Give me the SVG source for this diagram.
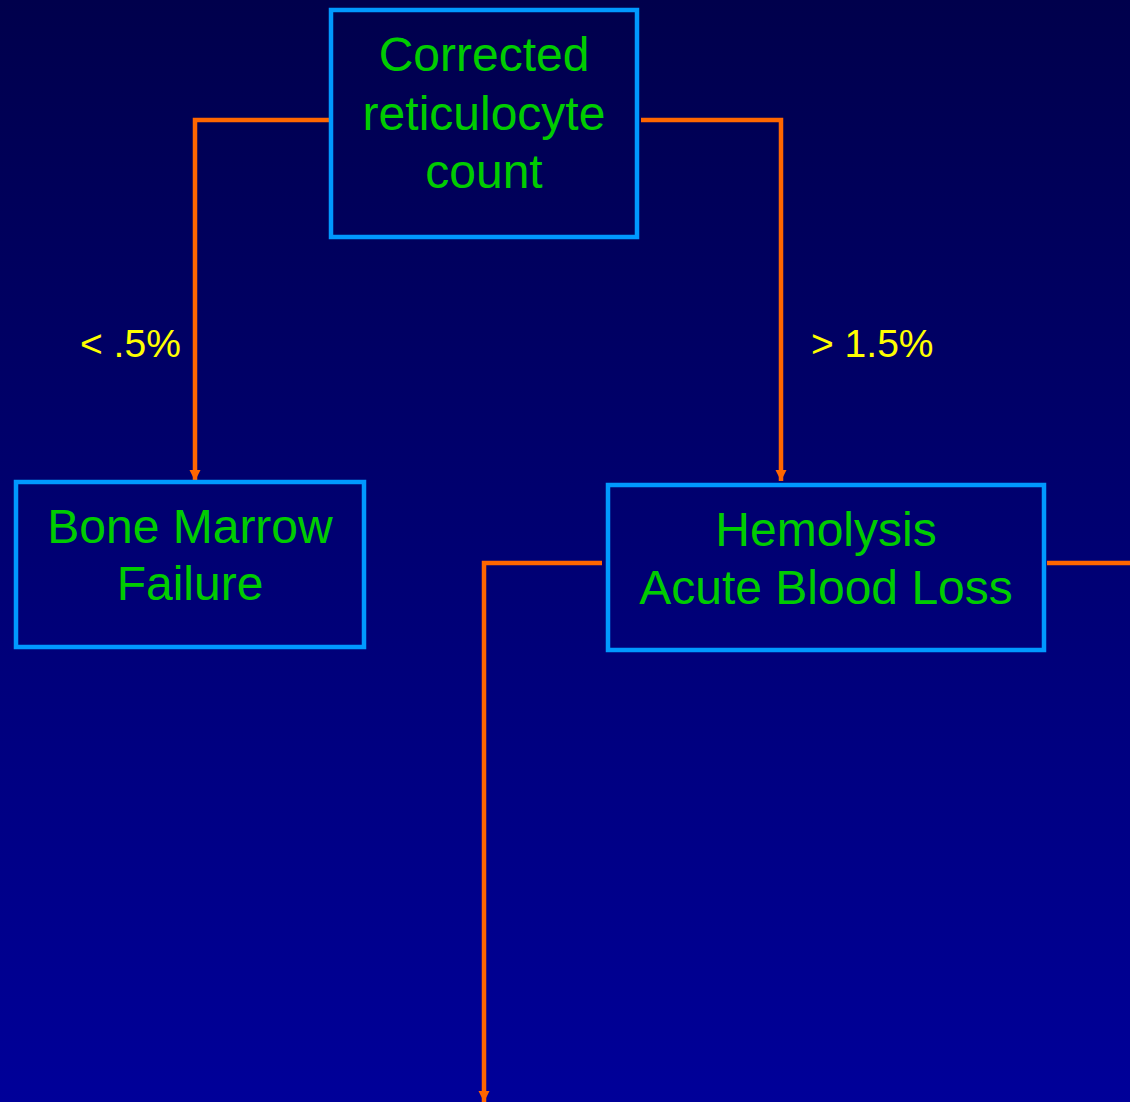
<svg xmlns="http://www.w3.org/2000/svg" width="1130" height="1102" viewBox="0 0 1130 1102">
<defs>
<linearGradient id="bg" x1="0" y1="0" x2="0" y2="1">
<stop offset="0" stop-color="#00004C"/>
<stop offset="1" stop-color="#000099"/>
</linearGradient>
<marker id="ah" markerUnits="userSpaceOnUse" markerWidth="12" markerHeight="12" viewBox="0 0 12 12" refX="11" refY="6" orient="auto">
<path d="M0,0.5 L11,6 L0,11.5 z" fill="#FF6600"/>
</marker>
<style>
.box{fill:none;stroke:#0099FF;stroke-width:4.5}
.t{font-family:"Liberation Sans",Arial,sans-serif;font-size:48px;fill:#00CC00;text-anchor:middle}
.lbl{font-family:"Liberation Sans",Arial,sans-serif;font-size:39px;fill:#FFFF00}
.c{fill:none;stroke:#FF6600;stroke-width:4.5}
</style>
</defs>
<rect width="1130" height="1102" fill="url(#bg)"/>
<g id="connectors">
<polyline class="c" points="333,120 195,120 195,481" marker-end="url(#ah)"/>
<polyline class="c" points="641,120 781,120 781,481" marker-end="url(#ah)"/>
<polyline class="c" points="602,563 484,563 484,1102" marker-end="url(#ah)"/>
<line class="c" x1="1047" y1="563" x2="1130" y2="563"/>
<text class="lbl" x="80" y="357">&lt; .5%</text>
<text class="lbl" x="811" y="357">&gt; 1.5%</text>
</g>
<g id="n1">
<rect class="box" x="331" y="10" width="306" height="227"/>
<text class="t" x="484" y="71">Corrected</text>
<text class="t" x="484" y="130">reticulocyte</text>
<text class="t" x="484" y="188">count</text>
</g>
<g id="n2">
<rect class="box" x="16" y="482" width="348" height="165"/>
<text class="t" x="190" y="543">Bone Marrow</text>
<text class="t" x="190" y="600">Failure</text>
</g>
<g id="n3">
<rect class="box" x="608" y="485" width="436" height="165"/>
<text class="t" x="826" y="546">Hemolysis</text>
<text class="t" x="826" y="604">Acute Blood Loss</text>
</g>
</svg>
